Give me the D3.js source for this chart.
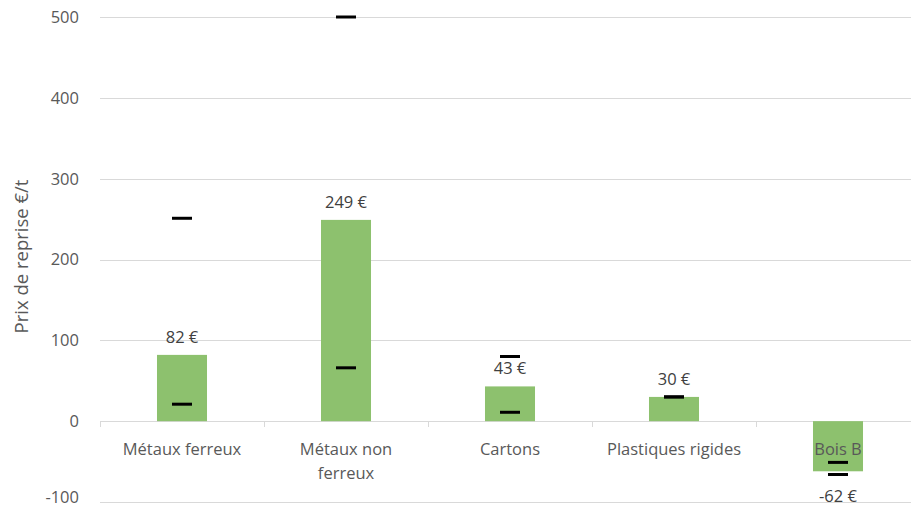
<!DOCTYPE html>
<html>
<head>
<meta charset="utf-8">
<script src="https://cdn.jsdelivr.net/npm/d3@7"></script>
<style>
  html, body { margin: 0; padding: 0; background: #fff; }
  svg { display: block; }
  text { font-family: "Open Sans", "Noto Sans", sans-serif; }
</style>
</head>
<body>
<svg id="chart" width="911" height="508"></svg>
<script>
// Prix de reprise moyen par matériau, avec min et max observés (€/t)
const categories = ["Métaux ferreux", "Métaux non ferreux", "Cartons", "Plastiques rigides", "Bois B"];
const categoryLines = [["Métaux ferreux"], ["Métaux non", "ferreux"], ["Cartons"], ["Plastiques rigides"], ["Bois B"]];
const meanValues = [82, 249, 43, 30, -62];
const maxValues = [251, 500, 80, 30, -51];
const minValues = [21, 66, 11, 30, -66];
const yTicks = [-100, 0, 100, 200, 300, 400, 500];
const yTitle = "Prix de reprise €/t";

const svg = d3.select("#chart");
const W = 911, H = 508;
const plot = { left: 100, right: 920, top: 17, bottom: 502 };

const x = d3.scaleBand()
  .domain(categories)
  .range([plot.left, plot.right])
  .paddingInner(0.695)
  .paddingOuter(0.3475);

const y = d3.scaleLinear()
  .domain([-100, 500])
  .range([plot.bottom, plot.top]);

// Horizontal gridlines
svg.append("g")
  .selectAll("line")
  .data(yTicks)
  .join("line")
  .attr("x1", plot.left)
  .attr("x2", plot.right)
  .attr("y1", d => Math.round(y(d)) + 0.5)
  .attr("y2", d => Math.round(y(d)) + 0.5)
  .attr("stroke", "#d9d9d9")
  .attr("stroke-width", 1);

// Y axis tick labels (the lowest one is kept inside the canvas)
const tickFont = 16.5;
svg.append("g")
  .selectAll("text")
  .data(yTicks)
  .join("text")
  .attr("x", 79)
  .attr("y", d => Math.min(y(d) + tickFont * 0.36, H - 5))
  .attr("text-anchor", "end")
  .attr("font-size", tickFont)
  .attr("fill", "#595959")
  .text(d => d3.format("d")(d).replace("−", "-"));

// Y axis title
svg.append("text")
  .attr("transform", `translate(28,${(y(300) + y(100)) / 2 - 3}) rotate(-90)`)
  .attr("text-anchor", "middle")
  .attr("font-size", 18.5)
  .attr("fill", "#595959")
  .text(yTitle);

// Category separator ticks on the zero line
const bw = x.step();
const sepXs = d3.range(categories.length + 1).map(i => plot.left + i * bw);
svg.append("g")
  .selectAll("line")
  .data(sepXs)
  .join("line")
  .attr("x1", d => Math.round(d) + 0.5)
  .attr("x2", d => Math.round(d) + 0.5)
  .attr("y1", Math.round(y(0)))
  .attr("y2", Math.round(y(0)) + 6)
  .attr("stroke", "#d9d9d9");

// Bars
svg.append("g")
  .selectAll("rect")
  .data(categories)
  .join("rect")
  .attr("x", d => x(d))
  .attr("width", x.bandwidth())
  .attr("y", (d, i) => y(Math.max(0, meanValues[i])))
  .attr("height", (d, i) => Math.abs(y(meanValues[i]) - y(0)))
  .attr("fill", "#8dc16e");

// Category labels
const catG = svg.append("g");
categories.forEach((c, i) => {
  const t = catG.append("text")
    .attr("x", x(c) + x.bandwidth() / 2)
    .attr("y", y(0) + 28)
    .attr("text-anchor", "middle")
    .attr("font-size", 16.5)
    .attr("fill", "#595959");
  categoryLines[i].forEach((line, j) => {
    t.append("tspan")
      .attr("x", x(c) + x.bandwidth() / 2)
      .attr("dy", j === 0 ? "0.36em" : 24)
      .text(line);
  });
});

// Min / max markers
const markerW = 20;
const markers = [];
categories.forEach((c, i) => {
  markers.push({ c, v: maxValues[i] });
  markers.push({ c, v: minValues[i] });
});
svg.append("g")
  .selectAll("line")
  .data(markers)
  .join("line")
  .attr("x1", d => x(d.c) + x.bandwidth() / 2 - markerW / 2)
  .attr("x2", d => x(d.c) + x.bandwidth() / 2 + markerW / 2)
  .attr("y1", d => y(d.v))
  .attr("y2", d => y(d.v))
  .attr("stroke", "#000")
  .attr("stroke-width", 3);

// Value labels
svg.append("g")
  .selectAll("text")
  .data(categories)
  .join("text")
  .attr("x", d => x(d) + x.bandwidth() / 2)
  .attr("y", (d, i) => meanValues[i] >= 0 ? y(meanValues[i]) - 18 : y(meanValues[i]) + 25)
  .attr("dy", "0.36em")
  .attr("text-anchor", "middle")
  .attr("font-size", 16.5)
  .attr("fill", "#404040")
  .text((d, i) => `${meanValues[i]} €`);
</script>
</body>
</html>
